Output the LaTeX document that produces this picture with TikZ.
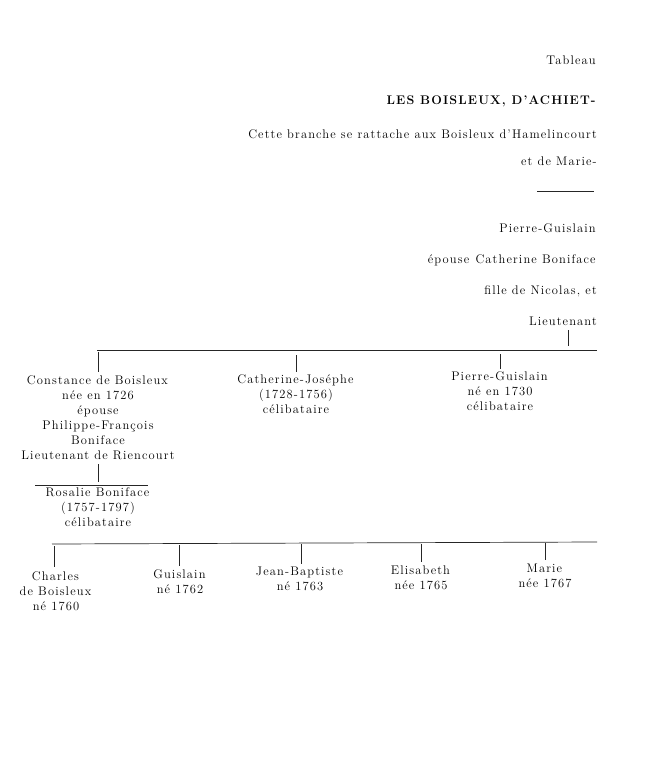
\documentclass[tikz,border=0pt]{standalone}
\usepackage{fontspec}
\setmainfont{Latin Modern Roman}[LetterSpace=9]
\newcommand{\ff}{\fontsize{12.5}{15}\selectfont}
\begin{document}
\begin{tikzpicture}[x=1pt,y=-1pt,
  txt/.style={font=\ff, align=center, inner sep=0pt},
  rt/.style={font=\ff, anchor=east, inner sep=0pt},
  ln/.style={line width=0.7pt, black!85}]
\useasboundingbox[fill=white] (0,0) rectangle (648,768);
\node[rt] (t1) at (597,60) {\textsc{Tableau}};
\node[rt] (t2) at (597,101) {\textbf{LES BOISLEUX, D'ACHIET-}};
\node[rt] (t3) at (597,134) {Cette branche se rattache aux Boisleux d'Hamelincourt};
\node[rt] (t4) at (597,161) {et de Marie-};
\coordinate (s1) at (537,191); \coordinate (s2) at (594,191);
\draw[ln] (s1) -- (s2);
\node[rt] (p) at (597,228) {\textsc{Pierre-Guislain}};
\node[rt] (p2) at (597,260) {épouse \textsc{Catherine Boniface}};
\node[rt] (p3) at (597,291) {fille de Nicolas, et};
\node[rt] (p4) at (597,321) {Lieutenant};
\coordinate (v1) at (568,330); \coordinate (v2) at (568,346);
\draw[ln] (v1) -- (v2);
\coordinate (h1) at (97,350); \coordinate (h2) at (597,350);
\draw[ln] (h1) -- (h2);
\node[txt,anchor=north] (c) at (98,375) {\textsc{Constance de Boisleux}\\née en 1726\\épouse\\Philippe-François\\Boniface\\Lieutenant de Riencourt};
\node[txt,anchor=north] (cj) at (296,374) {\textsc{Catherine-Joséphe}\\(1728-1756)\\célibataire};
\node[txt,anchor=north] (pg) at (500,371) {\textsc{Pierre-Guislain}\\né en 1730\\célibataire};
\coordinate (a1) at (98,352); \coordinate (a2) at (98,372);
\coordinate (b1) at (296,355); \coordinate (b2) at (296,372);
\coordinate (d1) at (500,354); \coordinate (d2) at (500,369);
\draw[ln] (a1) -- (a2); \draw[ln] (b1) -- (b2); \draw[ln] (d1) -- (d2);
\coordinate (e1) at (98,464); \coordinate (e2) at (98,482);
\draw[ln] (e1) -- (e2);
\coordinate (r1) at (35,485); \coordinate (r2) at (148,485);
\draw[ln] (r1) -- (r2);
\node[txt,anchor=north] (r) at (98,487) {\textsc{Rosalie Boniface}\\(1757-1797)\\célibataire};
\coordinate (g1) at (52,544); \coordinate (g2) at (597,542);
\draw[ln] (g1) -- (g2);
\node[txt,anchor=north] (k1) at (56,571) {\textsc{Charles}\\\textsc{de Boisleux}\\né 1760};
\node[txt,anchor=north] (k2) at (180,569) {\textsc{Guislain}\\né 1762};
\node[txt,anchor=north] (k3) at (300,567) {\textsc{Jean-Baptiste}\\né 1763};
\node[txt,anchor=north] (k4) at (421,566) {\textsc{Elisabeth}\\née 1765};
\node[txt,anchor=north] (k5) at (545,564) {\textsc{Marie}\\née 1767};
\draw[ln] (54,546) -- (54,567);
\draw[ln] (179,545) -- (179,566);
\draw[ln] (301,544) -- (301,564);
\draw[ln] (421,544) -- (421,562);
\draw[ln] (545,543) -- (545,560);
\end{tikzpicture}
\end{document}
